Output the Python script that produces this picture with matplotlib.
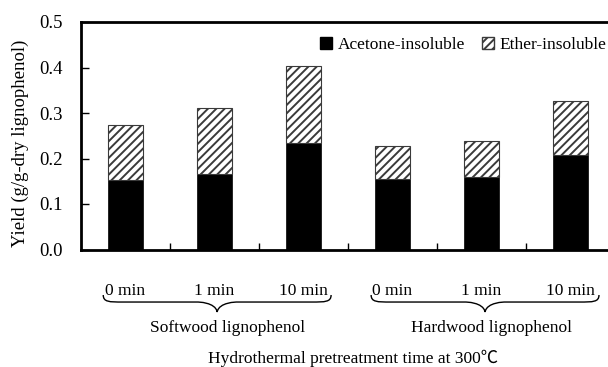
import matplotlib
matplotlib.use("Agg")
import matplotlib.pyplot as plt
import numpy as np
from matplotlib.patches import Patch, PathPatch
from matplotlib.path import Path
import matplotlib.transforms as mtransforms

# ---- data ----
time_labels = ["0 min", "1 min", "10 min", "0 min", "1 min", "10 min"]
groups = ["Softwood lignophenol", "Hardwood lignophenol"]
acetone_insoluble = [0.152, 0.165, 0.233, 0.156, 0.159, 0.207]
ether_insoluble = [0.121, 0.147, 0.170, 0.072, 0.080, 0.119]
y_ticks = [0.0, 0.1, 0.2, 0.3, 0.4, 0.5]

plt.rcParams['font.family'] = ['Liberation Serif', 'Noto Sans CJK JP']
plt.rcParams['hatch.linewidth'] = 1.4

W, H = 608, 367
fig = plt.figure(figsize=(W / 100, H / 100), dpi=100)
left, right, top, bottom = 81, 615, 22, 249.5
ax = fig.add_axes([left / W, 1 - bottom / H, (right - left) / W, (bottom - top) / H])

x = np.arange(len(time_labels))
bw = 0.40
ax.bar(x, acetone_insoluble, width=bw, color='black', edgecolor='black', linewidth=0.5, zorder=2)
ax.bar(x, ether_insoluble, width=bw, bottom=acetone_insoluble, color='white',
       edgecolor='#3a3a3a', linewidth=0.8, hatch='////', zorder=2)

ax.set_xlim(-0.5, 5.5)
ax.set_ylim(0, 0.5)
ax.set_yticks(y_ticks)
ax.set_yticklabels([f"{v:.1f}" for v in y_ticks], fontsize=13.5)
ax.tick_params(axis='y', direction='in', length=6, width=1, pad=13.5)

ax.set_xticks(x)
ax.set_xticklabels(time_labels, fontsize=12.5)
ax.set_xticks(np.arange(0.5, 5.0, 1.0), minor=True)
ax.tick_params(axis='x', which='major', length=0, pad=24)
ax.tick_params(axis='x', which='minor', direction='in', length=5, width=1)

for s in ['left', 'top', 'bottom']:
    ax.spines[s].set_linewidth(2.0)
ax.spines['right'].set_visible(False)

# legend
handles = [Patch(facecolor='black', edgecolor='black', label='Acetone-insoluble'),
           Patch(facecolor='white', edgecolor='#3a3a3a', hatch='////', label='Ether-insoluble')]
fig.legend(handles=handles, loc='center left', bbox_to_anchor=(320 / W, 1 - 45 / H),
           ncol=2, frameon=False, fontsize=12.5, handlelength=0.7, handleheight=0.7,
           handletextpad=0.3, columnspacing=1.0, borderpad=0, borderaxespad=0)

# braces
trans = mtransforms.blended_transform_factory(ax.transData, fig.transFigure)
def brace(xc, half, ytop, ybot):
    ymid = (ytop + ybot) / 2 + 0.004
    x0, x1 = xc - half, xc + half
    r = 0.22
    verts = [(x0, ytop), (x0, ymid), (x0 + r * 0.3, ymid), (x0 + r, ymid),
             (xc - r, ymid), (xc - r, ymid), (xc - 0.02, ymid), (xc, ybot)]
    codes = [Path.MOVETO, Path.CURVE4, Path.CURVE4, Path.CURVE4,
             Path.LINETO, Path.CURVE4, Path.CURVE4, Path.CURVE4]
    verts += [(xc + 0.02, ymid), (xc + r, ymid), (xc + r, ymid),
              (x1 - r, ymid), (x1 - r * 0.3, ymid), (x1, ymid), (x1, ytop)]
    codes += [Path.CURVE4, Path.CURVE4, Path.CURVE4,
              Path.LINETO, Path.CURVE4, Path.CURVE4, Path.CURVE4]
    p = PathPatch(Path(verts, codes), transform=trans, fill=False, lw=1.0,
                  edgecolor='black', clip_on=False)
    fig.add_artist(p)

y_top = 1 - 295 / H
y_bot = 1 - 312 / H
brace(1.03, 1.28, y_top, y_bot)
brace(4.04, 1.28, y_top, y_bot)

group_x = [1.15, 4.11]
for gx, g in zip(group_x, groups):
    fig.text(0, 1 - 328 / H, g, fontsize=12.5, ha='center', va='center',
             transform=trans).set_x(gx)

fig.text(353 / W, 1 - 358 / H, "Hydrothermal pretreatment time at 300\u2103",
         fontsize=12.5, ha='center', va='center')
fig.text(20 / W, 1 - 143 / H, "Yield (g/g-dry lignophenol)", fontsize=13.5,
         rotation=90, ha='center', va='center')

fig.savefig("out.png", dpi=100)
